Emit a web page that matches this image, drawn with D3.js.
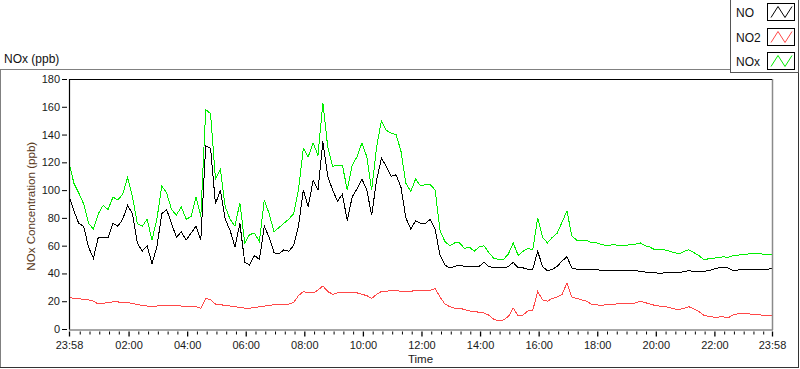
<!DOCTYPE html>
<html>
<head>
<meta charset="utf-8">
<script src="https://cdn.jsdelivr.net/npm/d3@7"></script>
<style>
  body { margin: 0; background: #fff; }
  svg { display: block; font-family: "Liberation Sans", Arial, sans-serif; }
</style>
</head>
<body>
<svg class="chart" width="800" height="369"></svg>
<script>
// readings every 10 minutes, starting 23:58
const startTime = new Date(2000, 0, 1, 23, 58);
const endTime = new Date(2000, 0, 2, 23, 58);
const stepMinutes = 10;

const seriesNames = ["NO", "NO2", "NOx"];
const seriesColors = ["#000000", "#ff4848", "#00ee00"];

const noValues = [
    96, 85, 76, 74, 59, 51, 66, 66, 66, 76, 74, 79,
    89, 83, 62, 56, 60, 47, 59, 83, 86, 76, 66, 70,
    64, 69, 74, 64, 132, 130, 90, 100, 79, 71, 59, 76,
    48, 46, 53, 50, 74, 66, 55, 54, 57, 56, 60, 74,
    100, 88, 107, 100, 135, 110, 100, 92, 97, 78, 95, 101,
    108, 100, 82, 107, 123, 117, 110, 111, 102, 80, 72, 78,
    76, 76, 79, 72, 53, 46, 44, 45, 46, 45, 45, 45,
    45, 48, 45, 44, 44, 44, 45, 48, 44, 44, 43, 43,
    56, 45, 42, 43, 45, 49, 52, 44, 43, 43, 43, 43,
    43, 42, 42, 42, 42, 42, 42, 42, 42, 41.5, 41, 41,
    40.5, 40, 40.5, 41, 40.5, 40.5, 41.5, 42, 41.5, 41.5, 41.5, 42,
    43, 44, 44.5, 44, 42, 42.5, 42.5, 43, 43, 43, 43, 43,
    43.5
];

const no2Values = [
    23, 22, 22, 21, 21, 20, 18, 18.5, 19, 19.5, 19.5, 19,
    19, 18.5, 17.5, 17, 16.5, 16, 16.5, 17, 17, 17, 17, 16.5,
    16, 16, 16, 15, 22, 21, 18, 17.5, 17, 16.5, 16, 15.5,
    15, 15, 15.5, 16, 16.5, 17, 17.5, 17.5, 17.5, 18, 19, 24,
    27, 26, 26, 28, 31, 27, 25, 26, 26, 26, 26, 26,
    25, 24, 22, 25, 27, 27, 28, 28, 27, 27, 27, 28,
    28, 28, 28, 29, 23, 18, 16, 15, 15, 14, 13, 12.7,
    12, 11.5, 10, 7, 6, 6.5, 9, 15, 9.5, 10, 13, 13.5,
    27, 21, 20, 22, 23, 25, 33, 23, 22, 21, 20, 18,
    17.5, 17, 17.5, 18, 18, 18.5, 18.7, 18.7, 18.7, 20, 19, 18,
    17, 16.5, 16.3, 15.5, 14.5, 14, 15, 16, 14.5, 12.7, 10, 9,
    8.6, 8.6, 8.8, 8, 10, 11, 11, 11, 10.5, 10.3, 10, 10,
    9.8
];

const noxValues = [
    120, 105, 98, 90, 76, 72, 83, 89, 86, 95, 93, 97,
    109, 95, 76, 74, 79, 64, 79, 103, 98, 86, 82, 88,
    79, 81, 95, 81, 158, 155, 108, 115, 88, 79, 74, 91,
    62, 68, 69, 63, 93, 83, 70, 73, 76, 79, 83, 100,
    130, 124, 134, 125, 163, 131, 117, 118, 118, 100, 118, 124,
    134, 124, 100, 131, 150, 143, 141, 140, 128, 105, 99, 108,
    103, 104, 104, 100, 71, 63, 60, 62, 62, 58, 59, 56,
    59, 60, 55, 51, 50, 50, 54, 62, 53, 56, 58, 57,
    80, 66, 62, 66, 69, 77, 85, 67, 64, 64, 64, 62,
    62, 61, 60, 60.5, 60.5, 60, 60, 61, 61, 62, 60, 59,
    57, 57, 57, 56, 55, 54, 56, 57, 55, 53, 50, 50.5,
    51, 51.5, 52, 51.5, 52.7, 53, 54, 54, 54.6, 54.6, 54, 54,
    54
];

const yTicks = [0, 20, 40, 60, 80, 100, 120, 140, 160, 180];

const plot = { left: 69, right: 772, top: 79, bottom: 329.5 };

const svg = d3.select('svg.chart');

// outer panel frame
svg.append('line').attr('x1', 0).attr('y1', 69.5).attr('x2', 730).attr('y2', 69.5)
    .attr('stroke', '#808080');
svg.append('line').attr('x1', 0.5).attr('y1', 69.5).attr('x2', 0.5).attr('y2', 368)
    .attr('stroke', '#808080');
svg.append('line').attr('x1', 0).attr('y1', 367.5).attr('x2', 799).attr('y2', 367.5)
    .attr('stroke', '#333');
svg.append('line').attr('x1', 798.5).attr('y1', 69).attr('x2', 798.5).attr('y2', 368)
    .attr('stroke', '#333');

svg.append('text')
    .attr('x', 4)
    .attr('y', 63)
    .attr('font-size', 12)
    .attr('fill', '#111')
    .text('NOx (ppb)');

const x = d3.scaleTime()
    .domain([startTime, endTime])
    .range([plot.left, plot.right]);

const y = d3.scaleLinear()
    .domain([0, 180])
    .range([plot.bottom - 0.5, plot.top]);

// plot area
svg.append('rect')
    .attr('x', plot.left)
    .attr('y', plot.top)
    .attr('width', plot.right - plot.left)
    .attr('height', plot.bottom - plot.top)
    .attr('fill', 'white');

svg.append('defs').append('clipPath').attr('id', 'plot-clip')
    .append('rect')
    .attr('x', plot.left)
    .attr('y', plot.top)
    .attr('width', plot.right - plot.left)
    .attr('height', plot.bottom - plot.top);

const times = noValues.map((d, i) => d3.timeMinute.offset(startTime, i * stepMinutes));
const allSeries = [noValues, no2Values, noxValues];

const line = d3.line()
    .x((d, i) => x(times[i]))
    .y(d => y(d));

const lineGroup = svg.append('g').attr('clip-path', 'url(#plot-clip)');

// draw NOx first, then NO, then NO2 on top
[2, 0, 1].forEach(k => {
    lineGroup.append('path')
        .datum(allSeries[k])
        .attr('d', line)
        .attr('fill', 'none')
        .attr('stroke', seriesColors[k])
        .attr('stroke-width', 1)
        .attr('shape-rendering', 'crispEdges');
});

// plot borders: black top/left, grey bottom/right
svg.append('line').attr('x1', plot.right + 0.5).attr('y1', plot.top).attr('x2', plot.right + 0.5).attr('y2', plot.bottom + 0.5)
    .attr('stroke', '#8a8a8a').attr('stroke-width', 1.5);
svg.append('line').attr('x1', plot.left).attr('y1', plot.bottom + 0.5).attr('x2', plot.right + 1).attr('y2', plot.bottom + 0.5)
    .attr('stroke', '#8a8a8a').attr('stroke-width', 1.5);
svg.append('line').attr('x1', plot.left).attr('y1', plot.top + 0.5).attr('x2', plot.right).attr('y2', plot.top + 0.5)
    .attr('stroke', '#000');
svg.append('line').attr('x1', plot.left + 0.5).attr('y1', plot.top).attr('x2', plot.left + 0.5).attr('y2', plot.bottom)
    .attr('stroke', '#000').attr('stroke-width', 1.2);

// y axis
const yAxis = svg.append('g')
    .attr('transform', `translate(${plot.left - 2},0)`)
    .call(d3.axisLeft(y).tickValues(yTicks).tickSize(5).tickPadding(2).tickFormat(d3.format('d')));
yAxis.select('.domain').remove();
yAxis.selectAll('.tick line').attr('stroke', '#000');
yAxis.selectAll('.tick text')
    .attr('font-size', 11)
    .attr('font-family', '"Liberation Sans", Arial, sans-serif')
    .attr('fill', '#1a1a1a');

svg.append('text')
    .attr('transform', `translate(35, ${(plot.top + plot.bottom) / 2 + 2}) rotate(-90)`)
    .attr('text-anchor', 'middle')
    .attr('font-size', 11.6)
    .attr('fill', '#5a3a1c')
    .text('NOx Concentration (ppb)');

// x axis: majors every 2 hours plus the ends, minors every 20 minutes
const majorTicks = [startTime]
    .concat(d3.timeHour.every(2).range(d3.timeMinute.offset(startTime, 30), d3.timeMinute.offset(endTime, -30)))
    .concat([endTime]);
const minorTicks = d3.timeMinute.every(20).range(startTime, endTime)
    .filter(t => !majorTicks.some(m => Math.abs(m - t) < 5 * 60000));

const xAxisY = plot.bottom + 2;

const xMinor = svg.append('g')
    .attr('transform', `translate(0,${xAxisY})`)
    .call(d3.axisBottom(x).tickValues(minorTicks).tickSize(3).tickFormat(''));
xMinor.select('.domain').remove();

const xMajor = svg.append('g')
    .attr('transform', `translate(0,${xAxisY})`)
    .call(d3.axisBottom(x).tickValues(majorTicks).tickSize(5).tickPadding(5)
        .tickFormat(d3.timeFormat('%H:%M')));
xMajor.select('.domain').remove();
xMajor.selectAll('.tick line').attr('stroke-width', 1.3);
xMajor.selectAll('.tick text')
    .attr('font-size', 11)
    .attr('font-family', '"Liberation Sans", Arial, sans-serif')
    .attr('fill', '#1a1a1a');

svg.append('text')
    .attr('x', (plot.left + plot.right) / 2)
    .attr('y', 363)
    .attr('text-anchor', 'middle')
    .attr('font-size', 11.5)
    .attr('fill', '#1a1a1a')
    .text('Time');

// legend box, top right
const legend = svg.append('g').attr('id', 'legend');
legend.append('rect')
    .attr('x', 730.5)
    .attr('y', -1)
    .attr('width', 68)
    .attr('height', 73.5)
    .attr('fill', 'white')
    .attr('stroke', '#555');

const swatch = d3.scaleBand()
    .domain(seriesNames)
    .range([2, 70])
    .paddingInner(0.3)
    .paddingOuter(0.05);

seriesNames.forEach((name, i) => {
    const top = Math.round(swatch(name)) + 0.5;
    const h = Math.round(swatch.bandwidth());
    legend.append('text')
        .attr('x', 736)
        .attr('y', top + h / 2 + 4.5)
        .attr('font-size', 12)
        .attr('fill', '#111')
        .text(name);
    legend.append('rect')
        .attr('x', 767.5)
        .attr('y', top)
        .attr('width', 27)
        .attr('height', h)
        .attr('fill', 'white')
        .attr('stroke', '#000');
    const zig = [[771, top + h - 3], [778, top + 3], [785, top + h - 3], [792, top + 3]];
    legend.append('path')
        .attr('d', d3.line()(zig))
        .attr('fill', 'none')
        .attr('stroke', seriesColors[i]);
});
</script>
</body>
</html>
